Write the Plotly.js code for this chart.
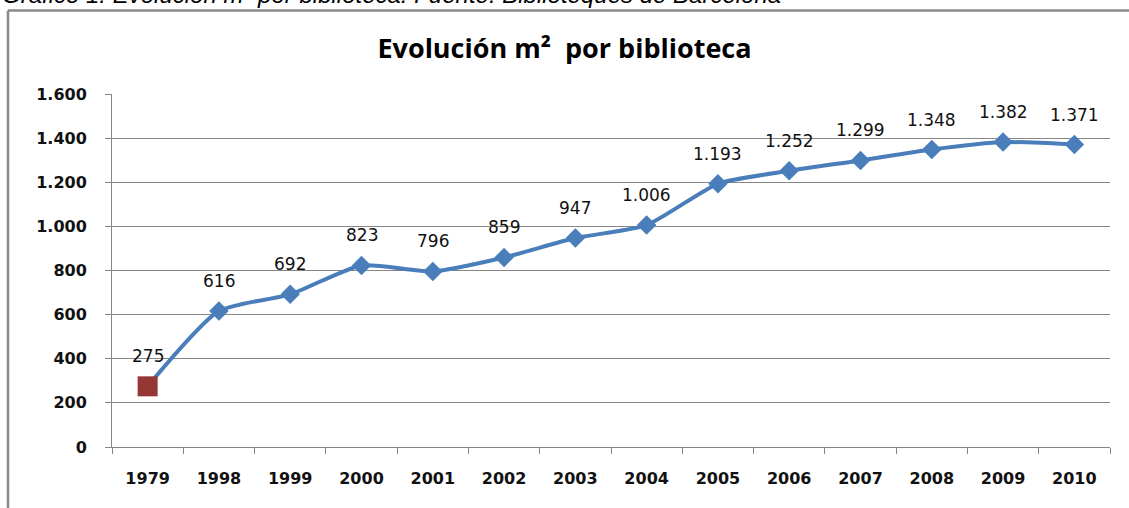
<!DOCTYPE html>
<html>
<head>
<meta charset="utf-8">
<script src="https://cdn.plot.ly/plotly-3.0.1.min.js"></script>
<style>html,body{margin:0;padding:0;background:#fff;}#chart{width:1129px;height:508px;}</style>
</head>
<body>
<div id="chart"></div>
<script>
const years = ['1979','1998','1999','2000','2001','2002','2003','2004','2005','2006','2007','2008','2009','2010'];
const m2 = [275, 616, 692, 823, 796, 859, 947, 1006, 1193, 1252, 1299, 1348, 1382, 1371];
const yTicks = [0, 200, 400, 600, 800, 1000, 1200, 1400, 1600];
const chartTitle = 'Evolución m²  por biblioteca';
const caption = 'Gráfico 1. Evolución m² por biblioteca. Fuente: Biblioteques de Barcelona';

function fmt(v){ return String(v).replace(/\B(?=(\d{3})+(?!\d))/g, '.'); }

const symbols = years.map((y,i)=> i===0 ? 'square' : 'diamond');
const colors = years.map((y,i)=> i===0 ? '#953735' : '#4A7EBB');
const sizes = years.map((y,i)=> i===0 ? 20 : 15);

const trace = {
  x: years, y: m2, type: 'scatter', mode: 'lines+markers',
  line: {color: '#4A7EBB', width: 4, shape: 'spline', smoothing: 0.6},
  marker: {symbol: symbols, color: colors, size: sizes, opacity: 1, line: {width: 0}},
  hoverinfo: 'skip'
};

const annotations = years.map((y,i)=>({
  x: i, y: m2[i], xref: 'x', yref: 'y', text: fmt(m2[i]), showarrow: false,
  yshift: 30, font: {family: 'DejaVu Sans', size: 17, color: '#111'}
}));
annotations.push({
  xref: 'paper', yref: 'paper', x: -0.112, y: 1.281, xanchor: 'left', yanchor: 'middle',
  text: '<i>' + caption + '</i>', showarrow: false,
  font: {family: 'Liberation Sans', size: 24, color: '#000', weight: 'normal'}
});

const layout = {
  width: 1129, height: 508,
  margin: {l: 112, r: 19, t: 94, b: 61},
  paper_bgcolor: '#fff', plot_bgcolor: '#fff',
  showlegend: false,
  title: {text: chartTitle, x: 0.5, xanchor: 'center', y: 0.905, yanchor: 'middle',
          font: {family: 'Open Sans', size: 27, color: '#000', weight: 'bold'}},
  xaxis: {type: 'category', tickson: 'boundaries', ticks: 'outside', ticklen: 6,
          tickcolor: '#868686', showline: true, linecolor: '#868686', linewidth: 1,
          showgrid: false, range: [-0.5, years.length - 0.5], ticklabelstandoff: 17,
          tickfont: {family: 'DejaVu Sans', size: 16, color: '#111', weight: 'bold'}},
  yaxis: {range: [0, 1600], tickvals: yTicks, ticktext: yTicks.map(fmt),
          ticks: 'outside', ticklen: 6, tickcolor: '#868686',
          showline: true, linecolor: '#868686', linewidth: 1, ticklabelstandoff: 15,
          showgrid: true, gridcolor: '#868686', gridwidth: 1, zeroline: false,
          tickfont: {family: 'DejaVu Sans', size: 16, color: '#111', weight: 'bold'}},
  annotations: annotations,
  shapes: [
    {type: 'line', xref: 'paper', yref: 'paper', x0: -0.1042, x1: -0.1042, y0: -0.3, y1: 1.2365,
     line: {color: '#8a8a8a', width: 2.5}},
    {type: 'line', xref: 'paper', yref: 'paper', x0: -0.1042, x1: 1.1, y0: 1.2365, y1: 1.2365,
     line: {color: '#8a8a8a', width: 2.5}}
  ]
};

Plotly.newPlot('chart', [trace], layout, {displayModeBar: false, staticPlot: true});
</script>
</body>
</html>
